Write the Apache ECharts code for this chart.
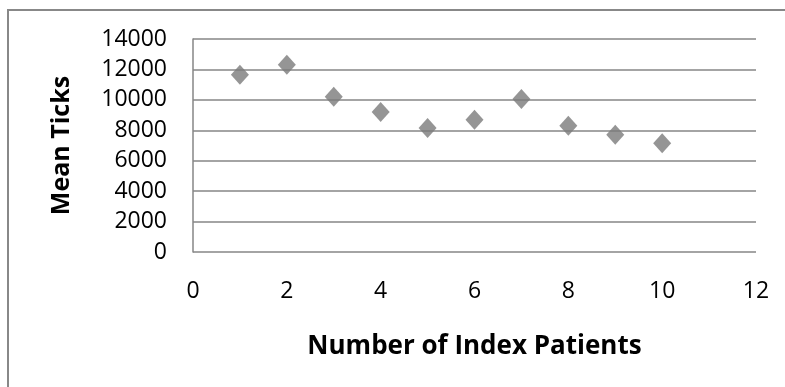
<!DOCTYPE html>
<html>
<head>
<meta charset="utf-8">
<script src="https://cdn.jsdelivr.net/npm/echarts@6/dist/echarts.min.js"></script>
<style>
  html, body { margin: 0; padding: 0; background: #fff; }
  #main { width: 785px; height: 387px; }
</style>
</head>
<body>
<div id="main"></div>
<script>
// data
const patients = [1, 2, 3, 4, 5, 6, 7, 8, 9, 10];
const meanTicks = [11650, 12300, 10200, 9200, 8150, 8700, 10050, 8300, 7700, 7150];

const chart = echarts.init(document.getElementById('main'));

const labelFont = 'Open Sans';

const option = {
    animation: false,
    backgroundColor: '#fff',
    graphic: [{
        type: 'rect',
        shape: { x: 8, y: 10, width: 800, height: 400 },
        style: { fill: 'none', stroke: '#888', lineWidth: 2 },
        silent: true
    }],
    grid: { left: 193, right: 29, top: 39, bottom: 135 },
    xAxis: {
        type: 'value',
        min: 0, max: 12, interval: 2,
        name: 'Number of Index Patients',
        nameLocation: 'middle',
        nameGap: 82,
        nameTextStyle: { fontFamily: labelFont, fontWeight: 'bold', fontSize: 26, color: '#000' },
        axisLine: { show: false },
        axisTick: { show: false },
        splitLine: { show: false },
        axisLabel: { fontFamily: labelFont, fontSize: 23, color: '#000', margin: 28 }
    },
    yAxis: {
        type: 'value',
        min: 0, max: 14000, interval: 2000,
        name: 'Mean Ticks',
        nameLocation: 'middle',
        nameGap: 119,
        nameTextStyle: { fontFamily: labelFont, fontWeight: 'bold', fontSize: 25, color: '#000' },
        axisLine: { show: true, lineStyle: { color: '#868686', width: 1.5 } },
        axisTick: { show: false },
        splitLine: { show: true, lineStyle: { color: '#868686', width: 1.5 } },
        axisLabel: {
            fontFamily: labelFont, fontSize: 23, color: '#000', margin: 26,
            formatter: v => String(v)
        }
    },
    series: [{
        type: 'scatter',
        symbol: 'diamond',
        symbolSize: [18, 20],
        itemStyle: { color: '#7b7b7b' },
        data: patients.map((p, i) => [p, meanTicks[i]])
    }]
};

chart.setOption(option);
</script>
</body>
</html>
